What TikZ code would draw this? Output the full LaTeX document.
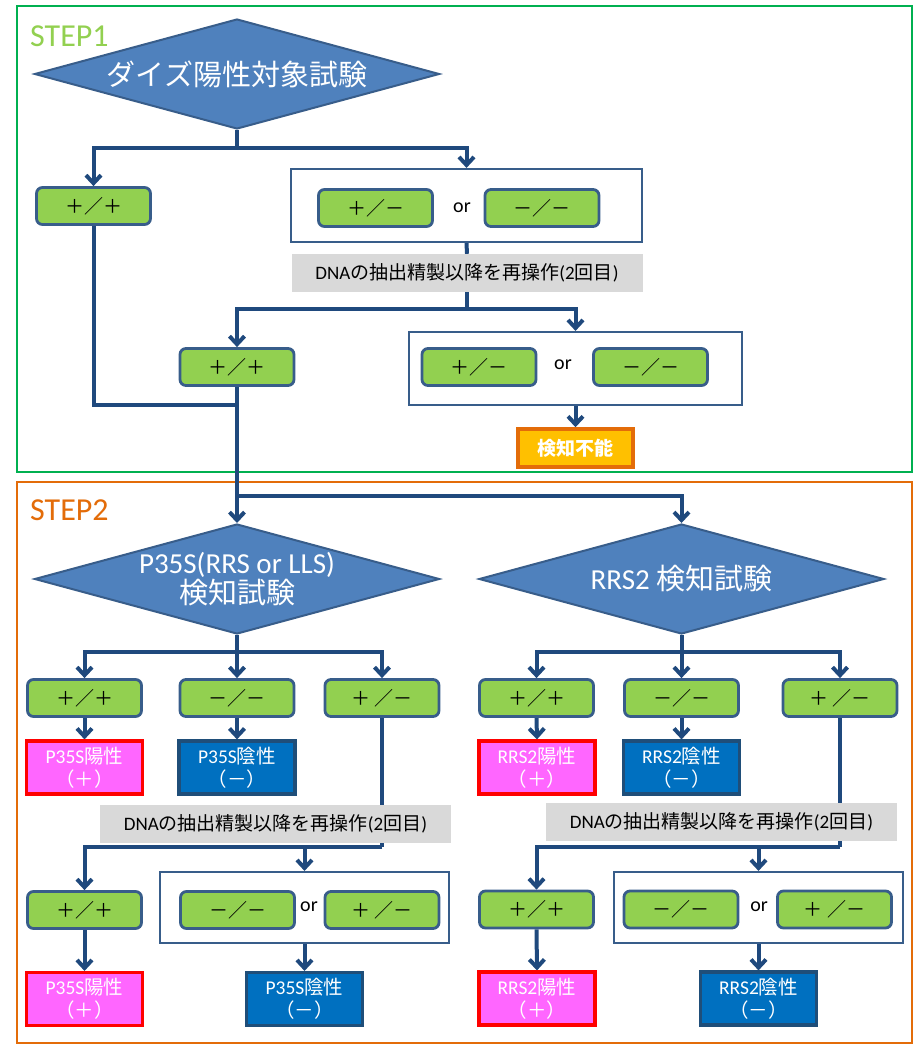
\documentclass[tikz,border=0pt]{standalone}
\usepackage{fontspec}
\setmainfont{Carlito}
\newfontfamily\jp{Noto Sans CJK JP}
\usetikzlibrary{shapes.geometric,arrows.meta,backgrounds}
\definecolor{diafill}{HTML}{4F81BD}
\definecolor{diaedge}{HTML}{385D8A}
\definecolor{pmgreen}{HTML}{92D050}
\definecolor{flow}{HTML}{1F497D}
\definecolor{redogray}{HTML}{D9D9D9}
\definecolor{posfill}{HTML}{FF66FF}
\definecolor{negfill}{HTML}{0070C0}
\definecolor{negedge}{HTML}{1F4E79}
\definecolor{failfill}{HTML}{FFC000}
\definecolor{failedge}{HTML}{E36C09}
\definecolor{stepgreen}{HTML}{00B050}
\definecolor{steplight}{HTML}{92D050}
\definecolor{steporange}{HTML}{E36C09}
\tikzstyle{cond}=[diamond, aspect=3.68, fill=diafill, draw=diaedge, line width=2pt, minimum width=405pt, minimum height=110pt,
        inner sep=0pt, text=white, align=center, font=\fontsize{29}{30}\selectfont]
\tikzstyle{pm}=[rectangle, rounded corners=6pt, fill=pmgreen, draw=diaedge, line width=2.8pt, minimum width=114pt,
        minimum height=37pt, font=\fontsize{19}{19}\selectfont\jp]
\tikzstyle{grp}=[rectangle, draw=diaedge, line width=2.2pt, inner sep=0pt]
\tikzstyle{redo}=[rectangle, fill=redogray, minimum width=351pt, minimum height=38pt, inner sep=0pt, font=\fontsize{19}{19}\selectfont]
\tikzstyle{posbox}=[rectangle, fill=posfill, draw=red, line width=3.2pt, minimum width=116pt, minimum height=53pt, inner sep=0pt,
        text=white, align=center, font=\fontsize{19.5}{23}\selectfont]
\tikzstyle{negbox}=[posbox, fill=negfill, draw=negedge]
\tikzstyle{fail}=[rectangle, fill=failfill, draw=failedge, line width=3.5pt, minimum width=115pt, minimum height=38pt,
        text=white, font=\fontsize{19}{19}\selectfont\jp\bfseries]
\tikzstyle{orword}=[inner sep=0pt, font=\fontsize{20}{20}\selectfont]
\tikzstyle{flowline}=[draw=flow, line width=4pt]
\tikzstyle{flowarrow}=[flowline, -{Straight Barb[length=8pt,width=15pt]}]
\tikzstyle{steplabel}=[anchor=base west, inner sep=0pt, font=\fontsize{32}{32}\selectfont]
\begin{document}
\begin{tikzpicture}[x=1pt, y=-1pt]
\useasboundingbox (0,0) rectangle (920,1057);
% STEP1
\node [steplabel, text=steplight] (s1) at (30,47) {STEP1};
\node [cond] (d1) at (237,74) {{\jp ダイズ陽性対象試験}};
\node [pm] (pp1) at (93.5,206) {＋／＋};
\node [grp, minimum width=351pt, minimum height=73pt] (g1) at (466.5,205.5) {};
\node [pm] (pm1) at (375.5,208) {＋／－};
\node [orword] (or1) at (462,208) {or};
\node [pm] (pm2) at (542,208) {－／－};
\node [redo] (redo1) at (467,273) {DNA{\jp の抽出精製以降を再操作}(2{\jp 回目})};
\node [pm] (pp2) at (237,367) {＋／＋};
\node [grp, minimum width=333pt, minimum height=73pt] (g2) at (575.5,368.5) {};
\node [pm] (pm3) at (479,367) {＋／－};
\node [orword] (or2) at (563,365) {or};
\node [pm] (pm4) at (650.5,367) {－／－};
\node [fail] (fail) at (575.5,448) {検知不能};
% STEP2
\node [steplabel, text=steporange] (s2) at (30,520) {STEP2};
\node [cond] (d2) at (237,579) {P35S(RRS or LLS)\\{\jp 検知試験}};
\node [cond] (d3) at (681.5,579) {RRS2 {\jp 検知試験}};
% P35S side
\node [pm] (pa1) at (84.5,698) {＋／＋};
\node [pm] (pa2) at (237,698) {－／－};
\node [pm] (pa3) at (382,698) {＋ ／－};
\node [posbox] (ra1) at (84.5,767.5) {P35S{\jp 陽性}\\{\jp （＋）}};
\node [negbox] (rb1) at (237,767.5) {P35S{\jp 陰性}\\{\jp （－）}};
\node [redo] (redo2) at (275.5,823.5) {DNA{\jp の抽出精製以降を再操作}(2{\jp 回目})};
\node [pm] (pc1) at (84.5,910) {＋／＋};
\node [grp, minimum width=289pt, minimum height=71pt] (g3) at (304.5,907.5) {};
\node [pm] (pd1) at (237.5,910) {－／－};
\node [orword] (or3) at (309,907) {or};
\node [pm] (pd2) at (382,910) {＋ ／－};
\node [posbox] (ra2) at (84.5,999) {P35S{\jp 陽性}\\{\jp （＋）}};
\node [negbox] (rb2) at (304.5,999) {P35S{\jp 陰性}\\{\jp （－）}};
% RRS2 side
\node [pm] (qa1) at (536.5,698) {＋／＋};
\node [pm] (qa2) at (681.5,698) {－／－};
\node [pm] (qa3) at (840,698) {＋ ／－};
\node [posbox] (sa1) at (537,767.5) {RRS2{\jp 陽性}\\{\jp （＋）}};
\node [negbox] (sb1) at (681.5,767.5) {RRS2{\jp 陰性}\\{\jp （－）}};
\node [redo] (redo3) at (721.5,822) {DNA{\jp の抽出精製以降を再操作}(2{\jp 回目})};
\node [pm] (qc1) at (536.5,909.5) {＋／＋};
\node [grp, minimum width=289pt, minimum height=71pt] (g4) at (758.5,907.5) {};
\node [pm] (qd1) at (681,909.5) {－／－};
\node [orword] (or4) at (759,907) {or};
\node [pm] (qd2) at (834.5,909.5) {＋ ／－};
\node [posbox] (sa2) at (537,998.5) {RRS2{\jp 陽性}\\{\jp （＋）}};
\node [negbox] (sb2) at (758.5,998.5) {RRS2{\jp 陰性}\\{\jp （－）}};
\coordinate (j1) at (237,148);
\coordinate (j2) at (467,309);
\coordinate (j3) at (237,405);
\coordinate (j4) at (237,496);
\coordinate (j5) at (237,652);
\coordinate (j6) at (382,847);
\coordinate (j7) at (681.5,652);
\coordinate (j8) at (840,847);
\begin{scope}[on background layer]
\draw [stepgreen, line width=2.5pt] (17,6) rectangle (912,472);
\draw [steporange, line width=2.5pt] (17,482) rectangle (912,1043);
\draw [flowarrow] (d1.south) -- (j1) -| (pp1.north);
\draw [flowarrow] (j1) -| (g1.north);
\draw [flowline] (g1.south) -- (redo1.north);
\draw [flowline] (redo1.south) -- (j2);
\draw [flowarrow] (j2) -| (pp2.north);
\draw [flowarrow] (j2) -| (g2.north);
\draw [flowarrow] (g2.south) -- (fail.north);
\draw [flowline] (pp1.south) |- (j3);
\draw [flowarrow] (pp2.south) -- (d2.north);
\draw [flowarrow] (j4) -| (d3.north);
\draw [flowarrow] (d2.south) -- (j5) -| (pa1.north);
\draw [flowarrow] (j5) -- (pa2.north);
\draw [flowarrow] (j5) -| (pa3.north);
\draw [flowarrow] (pa1.south) -- (ra1.north);
\draw [flowarrow] (pa2.south) -- (rb1.north);
\draw [flowline] (pa3.south) -- (j6);
\draw [flowarrow] (j6) -| (pc1.north);
\draw [flowarrow] (j6) -| (g3.north);
\draw [flowarrow] (pc1.south) -- (ra2.north);
\draw [flowarrow] (g3.south) -- (rb2.north);
\draw [flowarrow] (d3.south) -- (j7) -| (qa1.north);
\draw [flowarrow] (j7) -- (qa2.north);
\draw [flowarrow] (j7) -| (qa3.north);
\draw [flowarrow] (qa1.south) -- (sa1.north);
\draw [flowarrow] (qa2.south) -- (sb1.north);
\draw [flowline] (qa3.south) -- (j8);
\draw [flowarrow] (j8) -| (qc1.north);
\draw [flowarrow] (j8) -| (g4.north);
\draw [flowarrow] (qc1.south) -- (sa2.north);
\draw [flowarrow] (g4.south) -- (sb2.north);
\end{scope}
\end{tikzpicture}
\end{document}
